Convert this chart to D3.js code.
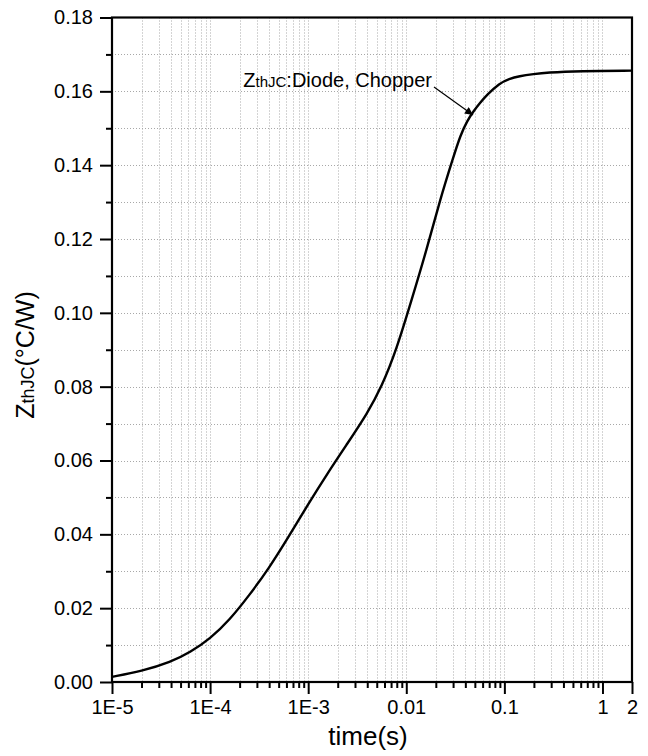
<!DOCTYPE html>
<html><head><meta charset="utf-8">
<script src="https://cdn.jsdelivr.net/npm/d3@7"></script>
<style>
html,body{margin:0;padding:0;background:#fff;}
svg{display:block;font-family:Arial,"Liberation Sans",sans-serif;}
</style></head>
<body><svg id="c" width="648" height="756"></svg>
<script>
// Data: time (s) and ZthJC (°C/W)
const timeS = [1e-5, 2e-5, 4e-5, 6.31e-5, 1e-4, 1.58e-4, 2.51e-4, 3.98e-4, 6.31e-4, 1e-3, 1.58e-3, 2.51e-3, 3.98e-3,
  5.62e-3, 7.94e-3, 0.0113, 0.0161, 0.022, 0.0302, 0.0355, 0.0417, 0.049, 0.0562, 0.0661, 0.0891, 0.112, 0.141, 0.2, 0.269, 0.589, 2];
const zth = [0.0014, 0.0029, 0.0054, 0.0081, 0.0117, 0.0168, 0.0235, 0.0308, 0.0393, 0.0482, 0.0566, 0.0646, 0.0726,
  0.0800, 0.0900, 0.1034, 0.1170, 0.1305, 0.1422, 0.1480, 0.1520, 0.1548, 0.1568, 0.1590, 0.1622, 0.1634, 0.1641, 0.1647, 0.1651, 0.1655, 0.1656];
const xTickValues = [1e-5, 1e-4, 1e-3, 0.01, 0.1, 1, 2];
const xTickLabels = ["1E-5", "1E-4", "1E-3", "0.01", "0.1", "1", "2"];
const yTickValues = [0, 0.02, 0.04, 0.06, 0.08, 0.10, 0.12, 0.14, 0.16, 0.18];
const yTickLabels = ["0.00", "0.02", "0.04", "0.06", "0.08", "0.10", "0.12", "0.14", "0.16", "0.18"];
const annotation = {z: "Z", sub: "thJC", rest: ":Diode, Chopper"};

const svg = d3.select("#c");
const L = 112, R = 632, T = 17.5, B = 682;
const x = d3.scaleLog().domain([1e-5, 2]).range([L, R]);
const y = d3.scaleLinear().domain([0, 0.18]).range([B, T]);

// minor ticks
const xMinor = [];
for (let e = -5; e <= 0; e++) for (let m = 2; m <= 9; m++) { const v = m * Math.pow(10, e); if (v < 2) xMinor.push(v); }
const yMinor = d3.range(1, 18, 2).map(i => i / 100);

// grid
const grid = svg.append("g").attr("stroke", "#a8a8a8").attr("stroke-width", 1).attr("stroke-dasharray", "1,2");
grid.selectAll("line.vx").data(xMinor.concat([1e-4, 1e-3, 0.01, 0.1, 1])).enter().append("line")
  .attr("x1", d => Math.round(x(d)) + 0.5).attr("x2", d => Math.round(x(d)) + 0.5).attr("y1", T).attr("y2", B);
grid.selectAll("line.hy").data(yMinor.concat(yTickValues.slice(1, 9))).enter().append("line")
  .attr("y1", d => Math.round(y(d)) + 0.5).attr("y2", d => Math.round(y(d)) + 0.5).attr("x1", L).attr("x2", R);

// axes
const xAxis = d3.axisBottom(x).tickValues(xTickValues).tickFormat((d, i) => xTickLabels[i]).tickSize(12).tickPadding(6);
const gx = svg.append("g").attr("transform", `translate(0,${B})`).call(xAxis);
const xMinorAxis = d3.axisBottom(x).tickValues(xMinor).tickFormat("").tickSize(6);
const gxm = svg.append("g").attr("transform", `translate(0,${B})`).call(xMinorAxis);
const yAxis = d3.axisLeft(y).tickValues(yTickValues).tickFormat((d, i) => yTickLabels[i]).tickSize(12).tickPadding(7);
const gy = svg.append("g").attr("transform", `translate(${L},0)`).call(yAxis);
const yMinorAxis = d3.axisLeft(y).tickValues(yMinor).tickFormat("").tickSize(6);
const gym = svg.append("g").attr("transform", `translate(${L},0)`).call(yMinorAxis);
[gx, gxm, gy, gym].forEach(g => {
  g.select(".domain").remove();
  g.selectAll(".tick line").attr("stroke", "#000").attr("stroke-width", 2);
  g.selectAll("text").attr("fill", "#000").style("font-size", "20px").style("font-family", "Arial, 'Liberation Sans', sans-serif");
});

// frame
svg.append("rect").attr("x", L).attr("y", T).attr("width", R - L).attr("height", B - T)
  .attr("fill", "none").attr("stroke", "#000").attr("stroke-width", 2.2);

// curve
const line = d3.line().x((d, i) => x(timeS[i])).y(d => y(d)).curve(d3.curveBasis);
svg.append("path").datum(zth).attr("d", line).attr("fill", "none").attr("stroke", "#000").attr("stroke-width", 2.4);

// annotation
const at = svg.append("text").attr("x", 432).attr("y", 87).attr("text-anchor", "end").style("font-size", "20px");
at.append("tspan").text(annotation.z);
at.append("tspan").style("font-size", "15px").text(annotation.sub);
at.append("tspan").text(annotation.rest);
svg.append("defs").append("marker").attr("id", "ah").attr("viewBox", "0 0 10 10").attr("refX", 10).attr("refY", 5)
  .attr("markerWidth", 13).attr("markerHeight", 8).attr("markerUnits", "userSpaceOnUse").attr("orient", "auto")
  .append("path").attr("d", "M0,0L10,5L0,10z").attr("fill", "#000");
svg.append("line").attr("x1", 434).attr("y1", 87).attr("x2", 473).attr("y2", 115)
  .attr("stroke", "#000").attr("stroke-width", 1.2).attr("marker-end", "url(#ah)");

// axis titles
svg.append("text").attr("x", 368).attr("y", 745).attr("text-anchor", "middle").style("font-size", "26px").text("time(s)");
const yt = svg.append("text").attr("transform", "translate(34,355) rotate(-90)").attr("text-anchor", "middle").style("font-size", "25px");
yt.append("tspan").text("Z");
yt.append("tspan").style("font-size", "18px").text("thJC");
yt.append("tspan").text("(°C/W)");
</script></body></html>
